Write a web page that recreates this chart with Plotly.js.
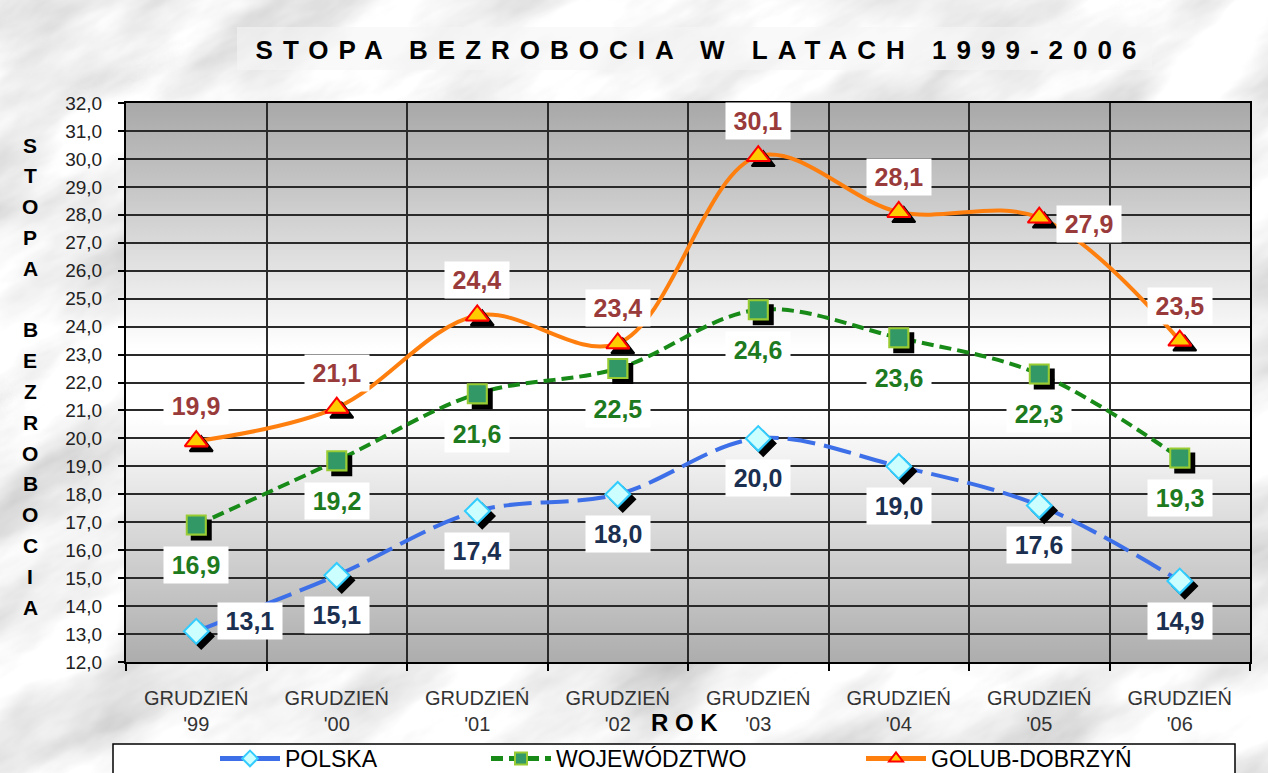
<!DOCTYPE html>
<html><head><meta charset="utf-8">
<script src="https://cdn.plot.ly/plotly-3.0.1.min.js"></script>
<style>
html,body{margin:0;padding:0;}
body{width:1268px;height:773px;overflow:hidden;background-color:#dadada;}
#chart{width:1268px;height:773px;}
.gtitle{letter-spacing:10px;}
.scatterlayer .trace .points path{filter:url(#mshadow);}
</style></head><body>
<svg width="0" height="0" style="position:absolute"><defs><filter id="mshadow" x="-50%" y="-50%" width="220%" height="220%"><feDropShadow dx="5" dy="5" stdDeviation="0" flood-color="#000" flood-opacity="1"/></filter></defs></svg>
<div id="chart"></div>
<script>
// ---- data ----
const categories = ["GRUDZIEŃ<br>'99","GRUDZIEŃ<br>'00","GRUDZIEŃ<br>'01","GRUDZIEŃ<br>'02","GRUDZIEŃ<br>'03","GRUDZIEŃ<br>'04","GRUDZIEŃ<br>'05","GRUDZIEŃ<br>'06"];
const polska = [13.1, 15.1, 17.4, 18.0, 20.0, 19.0, 17.6, 14.9];
const wojewodztwo = [16.9, 19.2, 21.6, 22.5, 24.6, 23.6, 22.3, 19.3];
const golubDobrzyn = [19.9, 21.1, 24.4, 23.4, 30.1, 28.1, 27.9, 23.5];
const seriesNames = ["POLSKA", "WOJEWÓDZTWO", "GOLUB-DOBRZYŃ"];
const chartTitle = "STOPA BEZROBOCIA W LATACH 1999-2006";
const yTitle = "STOPA BEZROBOCIA";
const xTitle = "R O K";

// ---- style (label placement per point) ----
const polskaSide = ["rightUp","bottom","bottom","bottom","bottom","bottom","bottom","bottom"];
const wojSide = ["bottom","bottom","bottom","bottom","bottom","bottom","bottom","bottom"];
const golubSide = ["top","top","top","top","top","top","right","top"];
const sideShift = {top:[0,35], bottom:[0,-40], right:[50,-6], rightUp:[54,10]};

// background marble texture
const marble = "<svg xmlns='http://www.w3.org/2000/svg' width='1268' height='773'>" +
 "<filter id='t' filterUnits='userSpaceOnUse' x='-600' y='-600' width='2600' height='2000'><feTurbulence type='fractalNoise' baseFrequency='0.005 0.013' numOctaves='5' seed='11'/>" +
 "<feColorMatrix type='matrix' values='0.9 0.5 0 0 0  0.9 0.5 0 0 0  0.9 0.5 0 0 0  0 0 0 0 1'/>" +
 "<feComponentTransfer><feFuncR type='linear' slope='0.8' intercept='0.33'/><feFuncG type='linear' slope='0.8' intercept='0.33'/><feFuncB type='linear' slope='0.8' intercept='0.33'/></feComponentTransfer></filter>" +
 "<g transform='rotate(-28 634 386)'><rect x='-600' y='-600' width='2600' height='2000' filter='url(#t)'/></g></svg>";
document.body.style.backgroundImage = 'url("data:image/svg+xml;charset=utf-8,' + encodeURIComponent(marble) + '")';

const plotGrad = "<svg xmlns='http://www.w3.org/2000/svg' width='100' height='100' viewBox='0 0 100 100' preserveAspectRatio='none'>" +
 "<defs><linearGradient id='g' x1='0' y1='0' x2='0' y2='1'>" +
 "<stop offset='0' stop-color='#a8a8a8'/><stop offset='0.44' stop-color='#ffffff'/><stop offset='0.56' stop-color='#ffffff'/><stop offset='1' stop-color='#adadad'/>" +
 "</linearGradient></defs><rect width='100' height='100' fill='url(#g)'/></svg>";

const idx = categories.map((_, i) => i);
const FONT = 'Arial, "Liberation Sans", sans-serif';
const W = 1268, H = 773, ML = 126, MR = 18, MT = 103, MB = 111;
const PW = W - ML - MR, PH = H - MT - MB;
const px2x = p => (p - ML) / PW;
const px2y = p => (H - MB - p) / PH;

const traces = [
 {x: idx, y: polska, name: seriesNames[0], mode: 'lines+markers', legend: 'legend',
  line: {color: '#3C6FE8', width: 4, dash: '28px,9px', shape: 'spline', smoothing: 1},
  marker: {symbol: 'diamond', size: 19, color: '#CCFFFF', line: {color: '#33CCFF', width: 2}}},
 {x: idx, y: wojewodztwo, name: seriesNames[1], mode: 'lines+markers', legend: 'legend2',
  line: {color: '#178A17', width: 4, dash: '12px,6px', shape: 'spline', smoothing: 1},
  marker: {symbol: 'square', size: 19, color: '#339966', line: {color: '#99CC33', width: 2}}},
 {x: idx, y: golubDobrzyn, name: seriesNames[2], mode: 'lines+markers', legend: 'legend3',
  line: {color: '#FF7F0E', width: 4, shape: 'spline', smoothing: 1},
  marker: {symbol: 'triangle-up', size: 20, color: '#FFCC00', line: {color: '#FF0000', width: 2}}}
];

const fmt = v => v.toFixed(1).replace('.', ',');
const annotations = [];
function addLabels(vals, sides, color) {
  vals.forEach((v, i) => {
    const s = sideShift[sides[i]];
    annotations.push({x: idx[i], y: v, xref: 'x', yref: 'y', text: fmt(v), showarrow: false,
      font: {family: FONT, size: 25, weight: 'bold', color: color},
      bgcolor: '#ffffff', width: 64, height: 36, borderpad: 0,
      xshift: s[0], yshift: s[1]});
  });
}
addLabels(polska, polskaSide, '#1B3050');
addLabels(wojewodztwo, wojSide, '#1E7A1E');
addLabels(golubDobrzyn, golubSide, '#9A3B3B');

// vertical y-axis title, letter by letter
yTitle.split('').forEach((ch, i) => {
  if (ch === ' ') return;
  annotations.push({xref: 'paper', yref: 'paper', x: px2x(30), y: px2y(145 + i * 30.8),
    xanchor: 'center', yanchor: 'middle', text: ch, showarrow: false,
    font: {family: FONT, size: 21, weight: 'bold', color: '#000'}});
});
annotations.push({xref: 'paper', yref: 'paper', x: px2x(684), y: px2y(722), xanchor: 'center', yanchor: 'middle',
  text: xTitle, showarrow: false, font: {family: FONT, size: 24, weight: 'bold', color: '#000'}});

const legendBase = {orientation: 'h', xref: 'container', yref: 'container', xanchor: 'left', yanchor: 'top', y: 1 - 737 / H,
  bgcolor: 'rgba(0,0,0,0)', borderwidth: 0, font: {family: FONT, size: 23, color: '#000'},
  itemwidth: 60, itemsizing: 'constant', itemclick: false, itemdoubleclick: false};

const layout = {
  width: W, height: H,
  margin: {l: ML, r: MR, t: MT, b: MB, pad: 0},
  paper_bgcolor: 'rgba(0,0,0,0)', plot_bgcolor: 'rgba(0,0,0,0)',
  separators: ', ',
  font: {family: FONT, color: '#000'},
  title: {text: chartTitle, font: {family: FONT, size: 26, weight: 'bold', color: '#000'},
    xref: 'container', yref: 'container', x: 701 / W, xanchor: 'center', y: 1 - 50 / H, yanchor: 'middle'},
  showlegend: true,
  legend: Object.assign({}, legendBase, {x: 215 / W}),
  legend2: Object.assign({}, legendBase, {x: 486 / W}),
  legend3: Object.assign({}, legendBase, {x: 861 / W}),
  xaxis: {range: [-0.5, 7.5], tickmode: 'array', tickvals: idx, ticktext: categories, ticks: '',
    showgrid: false, zeroline: false, showline: true, mirror: true, linecolor: '#000', linewidth: 2,
    tickfont: {family: FONT, size: 20, color: '#333'}, ticklabelstandoff: 17, fixedrange: true,
    minor: {tickmode: 'linear', tick0: -0.5, dtick: 1, showgrid: true, gridcolor: '#2a2a2a', gridwidth: 2,
      ticks: 'outside', ticklen: 7, tickcolor: '#000', tickwidth: 2}},
  yaxis: {range: [12, 32], tickmode: 'linear', tick0: 12, dtick: 1, tickformat: '.1f',
    ticks: 'outside', ticklen: 6, tickcolor: '#000', tickwidth: 2,
    showgrid: true, gridcolor: '#2a2a2a', gridwidth: 2, zeroline: false,
    showline: true, mirror: true, linecolor: '#000', linewidth: 2,
    tickfont: {family: FONT, size: 19, color: '#222'}, ticklabelstandoff: 12, fixedrange: true},
  images: [{source: 'data:image/svg+xml;charset=utf-8,' + encodeURIComponent(plotGrad),
    xref: 'paper', yref: 'paper', x: 0, y: 1, sizex: 1, sizey: 1, xanchor: 'left', yanchor: 'top',
    sizing: 'stretch', layer: 'below'}],
  shapes: [
    {type: 'rect', xref: 'paper', yref: 'paper', x0: px2x(237), x1: px2x(1152), y0: px2y(70), y1: px2y(27),
      fillcolor: 'rgba(245,245,245,0.6)', line: {width: 0}, layer: 'below'},
    {type: 'rect', xref: 'paper', yref: 'paper', x0: px2x(113), x1: px2x(1235), y0: px2y(800), y1: px2y(744),
      fillcolor: '#ffffff', line: {color: '#000', width: 1.5}, layer: 'above'}
  ],
  annotations: annotations
};

Plotly.newPlot('chart', traces, layout, {displayModeBar: false, staticPlot: true});
</script>
</body></html>
